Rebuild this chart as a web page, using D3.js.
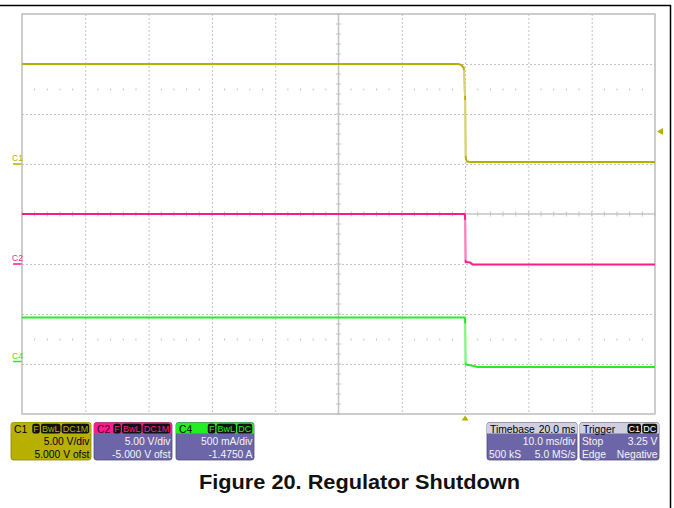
<!DOCTYPE html>
<html>
<head>
<meta charset="utf-8">
<script src="https://cdn.jsdelivr.net/npm/d3@7"></script>
<style>
  body { margin: 0; background: #fff; }
  svg { display: block; font-family: "Liberation Sans", Arial, sans-serif; }
</style>
</head>
<body>
<div id="scope"></div>
<script>
// traces, time in ms relative to the trigger point
const timeC1 = [-70, -1.1, -0.6, -0.2, 0.0, 0.1, 0.3, 0.8, 30];
const voltsC1 = [10.0, 10.0, 9.9, 9.6, 6.6, 0.6, 0.25, 0.2, 0.2];
const timeC2 = [-70, -0.05, 0.0, 0.08, 0.8, 1.2, 30];
const voltsC2 = [5.0, 5.0, 4.6, 0.2, 0.15, -0.05, -0.05];
const timeC4 = [-70, -0.05, 0.0, 0.08, 1.0, 2.0, 30];
const ampsC4 = [0.44, 0.44, 0.40, -0.03, -0.04, -0.055, -0.055];

// scope settings
const channelNames = ["C1", "C2", "C4"];
const perDiv = [5, 5, 0.5];
const offsets = [5.0, -5.0, -1.475];
const timeRange = [-70, 30];   // 10 ms/div, trigger 2 div right of centre
const triggerLevel = 3.25;     // on C1

// info panel text
const chanBadges = [["F", "BwL", "DC1M"], ["F", "BwL", "DC1M"], ["F", "BwL", "DC"]];
const chanRow1 = ["5.00 V/div", "5.00 V/div", "500 mA/div"];
const chanRow2 = ["5.000 V ofst", "-5.000 V ofst", "-1.4750 A"];
const timebaseRows = [["Timebase", "20.0 ms"], ["", "10.0 ms/div"], ["500 kS", "5.0 MS/s"]];
const triggerRows = [["Trigger", ""], ["Stop", "3.25 V"], ["Edge", "Negative"]];
const triggerBadges = ["C1", "DC"];
const title = "Figure 20. Regulator Shutdown";

const colors = { C1: "#b8b000", C2: "#ff1a8c", C4: "#22ee22" };
const W = 674, H = 508;
const plot = { left: 22, right: 655, top: 14, bottom: 414 };

const svg = d3.select("#scope").append("svg")
  .attr("width", W).attr("height", H);

svg.append("rect").attr("width", W).attr("height", H).attr("fill", "#fff");

// page frame lines
svg.append("line").attr("x1", 0).attr("x2", 671).attr("y1", 5.5).attr("y2", 5.5)
  .attr("stroke", "#000").attr("stroke-width", 1.5);
svg.append("line").attr("x1", 670.5).attr("x2", 670.5).attr("y1", 5).attr("y2", H)
  .attr("stroke", "#000").attr("stroke-width", 1.5);

const x = d3.scaleLinear().domain(timeRange).range([plot.left, plot.right]);
const yDiv = d3.scaleLinear().domain([-4, 4]).range([plot.bottom, plot.top]);
const xDiv = d3.scaleLinear().domain([-5, 5]).range([plot.left, plot.right]);

const grid = svg.append("g");
const gridColor = "#c4c4c4";

// dotted division lines
grid.selectAll(".vdiv").data(d3.range(-4, 5).filter(d => d !== 0)).enter()
  .append("line")
  .attr("x1", d => xDiv(d) + 0.5).attr("x2", d => xDiv(d) + 0.5)
  .attr("y1", plot.top).attr("y2", plot.bottom)
  .attr("stroke", gridColor).attr("stroke-dasharray", "2,2");
grid.selectAll(".hdiv").data(d3.range(-3, 4).filter(d => d !== 0)).enter()
  .append("line")
  .attr("y1", d => yDiv(d) + 0.5).attr("y2", d => yDiv(d) + 0.5)
  .attr("x1", plot.left).attr("x2", plot.right)
  .attr("stroke", gridColor).attr("stroke-dasharray", "2,2");

// rows of minor dots at +/- 2.5 div
const minorX = d3.range(-5, 5.001, 0.2).filter(d => Math.abs(d - Math.round(d)) > 0.01);
[2.5, -2.5].forEach(r => {
  grid.selectAll(null).data(minorX).enter().append("line")
    .attr("x1", d => xDiv(d)).attr("x2", d => xDiv(d))
    .attr("y1", yDiv(r) - 0.5).attr("y2", yDiv(r) + 1.5)
    .attr("stroke", gridColor);
});

// centre axes with ticks
grid.append("line").attr("x1", xDiv(0)).attr("x2", xDiv(0))
  .attr("y1", plot.top).attr("y2", plot.bottom)
  .attr("stroke", gridColor).attr("stroke-width", 1.5);
grid.append("line").attr("y1", yDiv(0)).attr("y2", yDiv(0))
  .attr("x1", plot.left).attr("x2", plot.right)
  .attr("stroke", gridColor).attr("stroke-width", 1.5);
grid.selectAll(".xt").data(d3.range(-5, 5.001, 0.2)).enter().append("line")
  .attr("x1", d => xDiv(d)).attr("x2", d => xDiv(d))
  .attr("y1", yDiv(0) - 2.5).attr("y2", yDiv(0) + 2.5)
  .attr("stroke", gridColor);
grid.selectAll(".yt").data(d3.range(-4, 4.001, 0.2)).enter().append("line")
  .attr("y1", d => yDiv(d)).attr("y2", d => yDiv(d))
  .attr("x1", xDiv(0) - 2.5).attr("x2", xDiv(0) + 2.5)
  .attr("stroke", gridColor);

grid.append("rect")
  .attr("x", plot.left).attr("y", plot.top)
  .attr("width", plot.right - plot.left).attr("height", plot.bottom - plot.top)
  .attr("fill", "none").attr("stroke", "#bdbdbd").attr("stroke-width", 1.5);

// traces
const traces = [
  { name: "C1", t: timeC1, v: voltsC1 },
  { name: "C2", t: timeC2, v: voltsC2 },
  { name: "C4", t: timeC4, v: ampsC4 }
];

traces.forEach((tr, i) => {
  const yv = v => yDiv((v + offsets[i]) / perDiv[i]);
  const pts = tr.t.map((t, k) => [x(t), yv(tr.v[k])]);
  svg.append("path")
    .attr("d", d3.line()(pts))
    .attr("fill", "none").attr("stroke", colors[tr.name])
    .attr("stroke-width", 2).attr("stroke-linejoin", "round");
  // fast edges look faded on the scope
  const steep = d3.pairs(pts).filter(([a, b]) => Math.abs(b[1] - a[1]) > 3 * Math.abs(b[0] - a[0]) + 4);
  svg.selectAll(null).data(steep).enter().append("line")
    .attr("x1", d => d[0][0]).attr("y1", d => d[0][1] + 2)
    .attr("x2", d => d[1][0]).attr("y2", d => d[1][1] - 2)
    .attr("stroke", "#fff").attr("stroke-opacity", 0.45).attr("stroke-width", 2);

  // ground marker and label on the left
  const g0 = yv(0);
  svg.append("line").attr("x1", 13).attr("x2", 21.5).attr("y1", g0).attr("y2", g0)
    .attr("stroke", colors[tr.name]).attr("stroke-width", 1.5);
  svg.append("text").attr("x", 12).attr("y", g0 - 3)
    .attr("font-size", 8.5).attr("fill", colors[tr.name])
    .text(channelNames[i]);
});

// trigger markers
const ty = yDiv((triggerLevel + offsets[0]) / perDiv[0]);
svg.append("path")
  .attr("d", `M${plot.right + 2},${ty} L${plot.right + 8},${ty - 3.5} L${plot.right + 8},${ty + 3.5} Z`)
  .attr("fill", colors.C1);
const tx = x(0);
svg.append("path")
  .attr("d", `M${tx},${plot.bottom + 1.5} L${tx - 3.5},${plot.bottom + 6.5} L${tx + 3.5},${plot.bottom + 6.5} Z`)
  .attr("fill", colors.C1);

// info panels
const panelY = 422.5, rowBase = [432.5, 445, 457.5];
const purple = "#6c66a8";
const fs = 10.3;

function panel(px, w, headFill, bodyFill, headText, headColor, badges, badgeColor, rows, bodyColor) {
  const g = svg.append("g");
  g.append("rect").attr("x", px).attr("y", panelY).attr("width", w).attr("height", 37.5)
    .attr("rx", 2.5).attr("fill", bodyFill).attr("stroke", d3.color(bodyFill).darker(0.8)).attr("stroke-width", 0.8);
  g.append("path")
    .attr("d", `M${px},${panelY + 11} V${panelY + 2.5} Q${px},${panelY} ${px + 2.5},${panelY} H${px + w - 2.5} Q${px + w},${panelY} ${px + w},${panelY + 2.5} V${panelY + 11} Z`)
    .attr("fill", headFill);
  g.append("text").attr("x", px + 3).attr("y", rowBase[0]).attr("font-size", fs)
    .attr("fill", headColor).text(headText[0]);
  if (headText[1]) {
    g.append("text").attr("x", px + w - 1.5).attr("y", rowBase[0]).attr("font-size", fs)
      .attr("text-anchor", "end").attr("fill", headColor).text(headText[1]);
  }
  let bx = px + w - 1.2;
  badges.slice().reverse().forEach(b => {
    const t = g.append("text").attr("y", rowBase[0] - 0.3).attr("font-size", 9)
      .attr("fill", badgeColor).text(b);
    const bw = t.node().getComputedTextLength() + 2.6;
    bx -= bw;
    g.insert("rect", () => t.node()).attr("x", bx).attr("y", panelY + 1.3)
      .attr("width", bw - 0.6).attr("height", 9.6).attr("rx", 2.2).attr("fill", "#111");
    t.attr("x", bx + 1.1);
    bx -= 0.6;
  });
  rows.forEach((r, k) => {
    if (r[0]) g.append("text").attr("x", px + 2).attr("y", rowBase[k + 1])
      .attr("font-size", fs).attr("fill", bodyColor).text(r[0]);
    if (r[1]) g.append("text").attr("x", px + w - 1.5).attr("y", rowBase[k + 1])
      .attr("font-size", fs).attr("text-anchor", "end").attr("fill", bodyColor).text(r[1]);
  });
}

const chanX = [11, 94, 176], chanW = [80, 78, 78];
channelNames.forEach((c, i) => {
  const c1 = i === 0;
  panel(chanX[i], chanW[i], colors[c], c1 ? colors.C1 : purple,
    [c, ""], c === "C2" ? "#3a0020" : "#000", chanBadges[i], colors[c],
    [["", chanRow1[i]], ["", chanRow2[i]]], c1 ? "#000" : "#f4f4f4");
});
panel(487, 90, "#cfcfe0", purple, timebaseRows[0], "#000", [], "#fff",
  timebaseRows.slice(1), "#f4f4f4");
panel(580, 79, "#cfcfe0", purple, triggerRows[0], "#000", triggerBadges, "#fff",
  triggerRows.slice(1), "#f4f4f4");

// caption
svg.append("text").attr("x", 359.5).attr("y", 489)
  .attr("text-anchor", "middle").attr("font-size", 20.5).attr("font-weight", "bold")
  .attr("textLength", 321).attr("lengthAdjust", "spacingAndGlyphs")
  .attr("fill", "#111").text(title);
</script>
</body>
</html>
